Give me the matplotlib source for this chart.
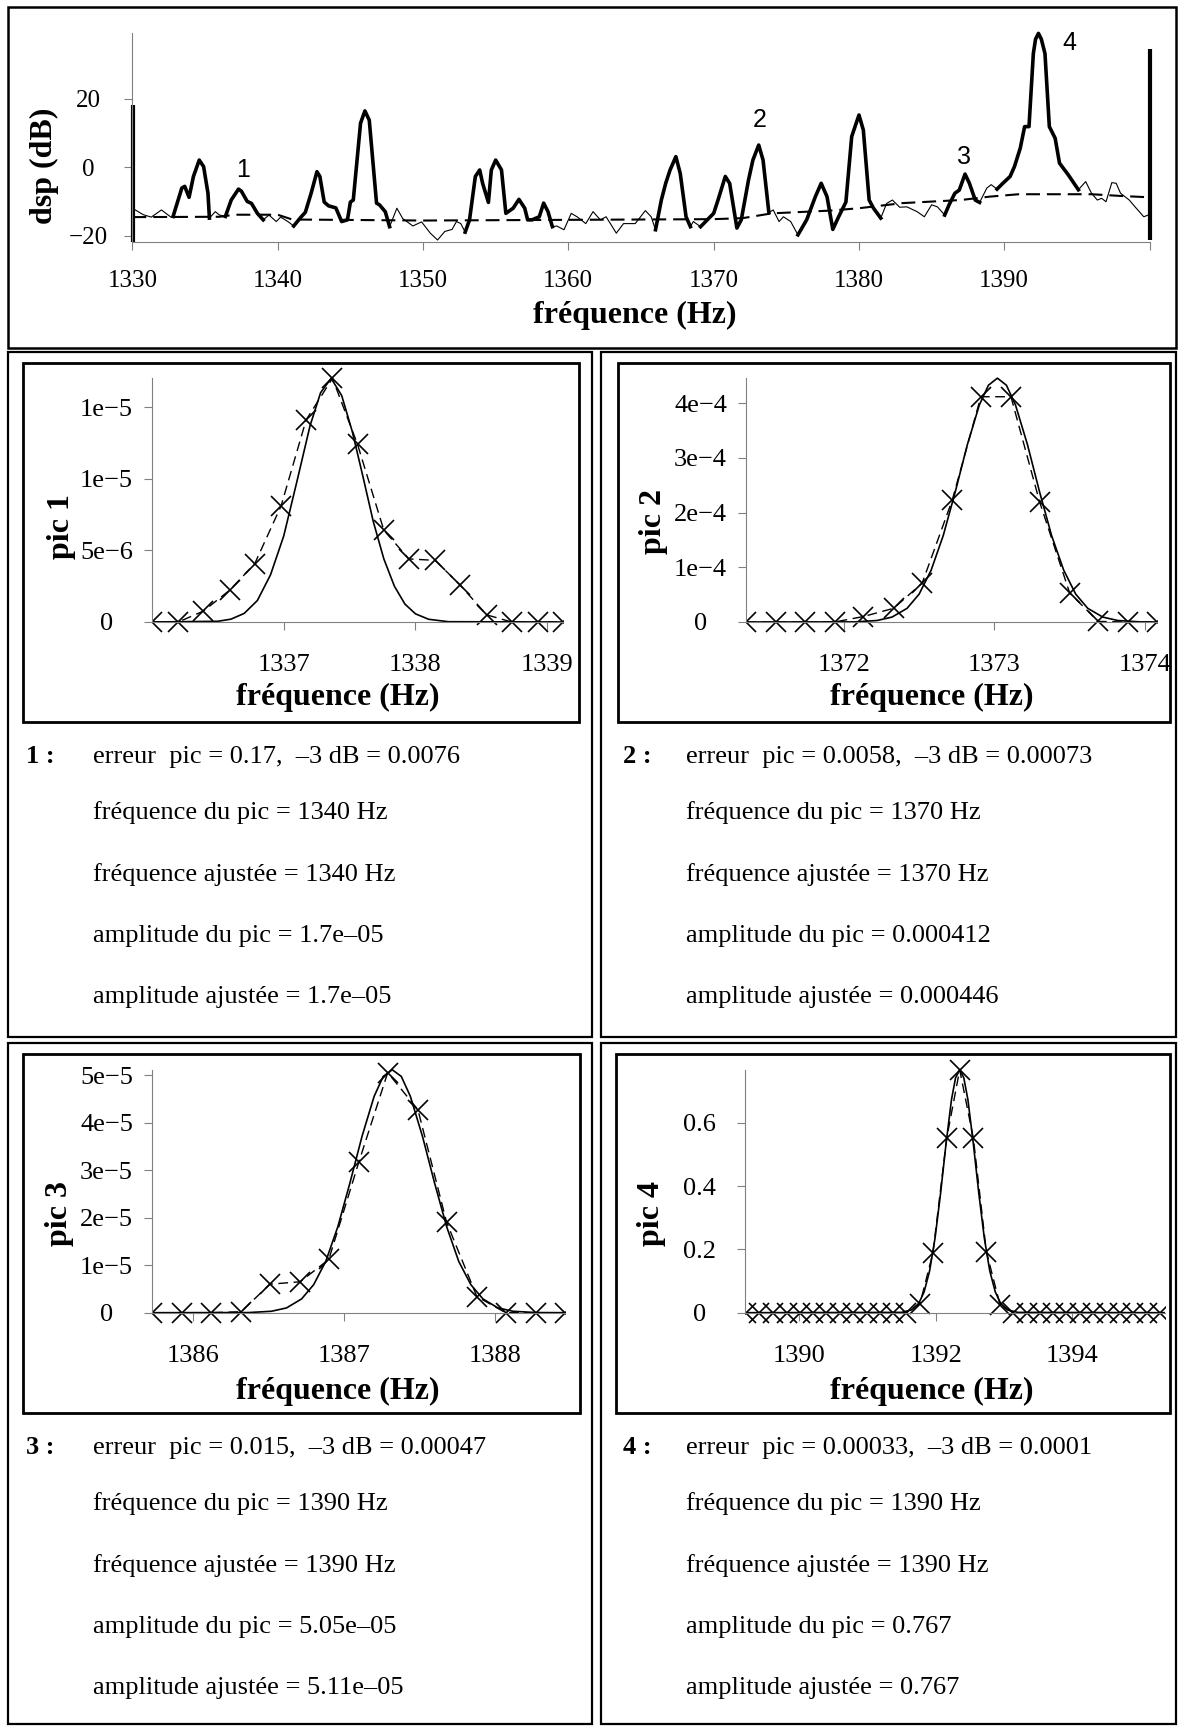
import numpy as np
import matplotlib
matplotlib.use("Agg")
import matplotlib.pyplot as plt
from matplotlib.patches import Rectangle

# ---------------- data ----------------
spec_freq = [1330.0, 1330.2, 1330.75, 1331.3, 1332.0, 1332.65, 1332.8, 1333.4, 1333.6, 1333.9,
             1334.2, 1334.6, 1334.9, 1335.2, 1335.3, 1335.7, 1336.0, 1336.4, 1336.8, 1337.3,
             1337.5, 1337.9, 1338.2, 1338.6, 1339.0, 1339.4, 1339.9, 1340.2, 1340.7, 1341.1,
             1341.6, 1341.9, 1342.3, 1342.7, 1342.9, 1343.2, 1343.5, 1344.0, 1344.4, 1344.8,
             1345.0, 1345.2, 1345.7, 1346.0, 1346.3, 1346.6, 1346.8, 1347.0, 1347.4, 1347.7,
             1348.2, 1348.6, 1349.3, 1349.9, 1350.5, 1351.0, 1351.5, 1352.0, 1352.3, 1352.6,
             1352.9, 1353.2, 1353.6, 1353.9, 1354.1, 1354.5, 1354.7, 1355.0, 1355.4, 1355.7,
             1356.2, 1356.6, 1357.0, 1357.2, 1357.5, 1358.0, 1358.3, 1358.6, 1358.9, 1359.2,
             1359.7, 1360.2, 1360.6, 1361.2, 1361.7, 1362.2, 1362.6, 1363.3, 1363.8, 1364.6,
             1365.3, 1365.7, 1366.0, 1366.4, 1366.7, 1367.0, 1367.4, 1367.7, 1368.1, 1368.4,
             1368.6, 1369.1, 1370.0, 1370.3, 1370.8, 1371.1, 1371.6, 1371.9, 1372.4, 1372.7,
             1373.1, 1373.4, 1373.8, 1374.1, 1374.5, 1374.8, 1375.3, 1375.8, 1376.4, 1377.0,
             1377.4, 1377.8, 1378.2, 1378.6, 1379.1, 1379.5, 1380.0, 1380.3, 1380.7, 1381.0,
             1381.5, 1381.9, 1382.3, 1382.8, 1383.3, 1384.0, 1384.5, 1385.0, 1385.4, 1385.9,
             1386.2, 1386.6, 1386.9, 1387.3, 1387.6, 1388.0, 1388.3, 1388.8, 1389.1, 1389.5,
             1389.9, 1390.4, 1390.7, 1391.1, 1391.4, 1391.7, 1392.0, 1392.15, 1392.35, 1392.55,
             1392.8, 1393.1, 1393.5, 1393.8, 1394.4, 1395.1, 1395.6, 1396.0, 1396.4, 1396.7,
             1397.0, 1397.4, 1397.7, 1398.0, 1398.6, 1399.0, 1399.6, 1399.9]
spec_db = [-12.0, -12.5, -13.9, -14.6, -12.5, -14.6, -14.4, -6.1, -5.6, -8.8,
           -2.7, 2.1, 0.2, -7.6, -14.9, -13.0, -14.0, -14.4, -9.6, -6.4,
           -7.0, -10.0, -10.6, -13.5, -15.4, -14.0, -15.9, -14.6, -15.9, -17.2,
           -14.6, -13.2, -7.6, -1.3, -2.7, -10.2, -11.3, -11.9, -15.9, -15.4,
           -10.2, -9.6, 12.9, 16.5, 13.8, -0.8, -10.5, -11.0, -13.0, -17.4,
           -12.0, -15.0, -17.2, -16.0, -19.3, -21.3, -18.8, -18.2, -15.9, -16.5,
           -19.0, -15.4, -2.7, -0.8, -4.7, -10.3, -0.8, 2.1, -0.8, -13.5,
           -12.0, -9.4, -12.0, -15.4, -15.4, -14.5, -10.5, -13.0, -17.4, -17.2,
           -18.3, -13.5, -14.5, -16.5, -13.0, -15.4, -14.5, -19.3, -16.5, -16.5,
           -12.7, -14.5, -18.3, -9.6, -4.7, -0.8, 3.1, -1.8, -14.5, -17.4,
           -15.9, -17.4, -13.5, -9.6, -2.7, -4.7, -17.8, -15.4, -3.7, 2.1,
           6.5, 2.1, -13.3, -12.5, -15.9, -14.5, -15.9, -19.8, -15.4, -8.6,
           -4.7, -8.6, -18.2, -14.5, -10.2, 9.0, 15.3, 10.9, -9.6, -12.0,
           -14.9, -10.6, -9.6, -11.7, -11.6, -13.0, -14.5, -11.0, -11.6, -14.0,
           -11.0, -7.6, -6.7, -2.0, -4.7, -9.6, -10.3, -6.1, -5.1, -6.4,
           -4.7, -2.7, 0.2, 5.6, 11.9, 11.9, 33.3, 37.5, 39.2, 37.5,
           33.3, 11.9, 8.5, 1.2, -2.2, -6.6, -4.2, -7.6, -9.6, -9.1,
           -10.1, -4.5, -4.7, -7.6, -9.6, -11.6, -14.5, -14.0]
thick_ranges = [(1332.8, 1335.3), (1336.4, 1339.0), (1341.1, 1347.7), (1352.9, 1358.9),
                (1366.0, 1368.4), (1369.1, 1373.8), (1375.8, 1381.5), (1385.9, 1388.3),
                (1389.5, 1395.1)]
floor_freq = [1330, 1336, 1337, 1340, 1341, 1350, 1360, 1370, 1372, 1374, 1378, 1380,
              1383, 1387, 1389, 1391, 1396, 1398, 1400]
floor_db = [-14.6, -14.5, -13.9, -13.9, -15.3, -15.6, -15.4, -15.2, -14.9, -13.5, -12.7, -12.0,
            -10.5, -9.6, -8.6, -7.9, -7.9, -8.4, -8.8]
edge_freq = [1330.05, 1400.0]
edge_lo = [-21.8, -21.3]
edge_hi = [18.2, 34.5]
peak_names = ['1', '2', '3', '4']
peak_name_freq = [1337.6, 1373.2, 1387.2, 1394.5]
peak_name_db = [-0.8, 13.8, 3.1, 36.3]

p1_freq = [1336.00, 1336.20, 1336.39, 1336.59, 1336.78, 1336.98, 1337.17, 1337.37, 1337.56,
           1337.76, 1337.95, 1338.15, 1338.34, 1338.54, 1338.73, 1338.93, 1339.12]
p1_val = [0, 0, 0.76e-6, 2.22e-6, 4.07e-6, 8.1e-6, 14.1e-6, 17.0e-6, 12.4e-6,
          6.4e-6, 4.4e-6, 4.3e-6, 2.57e-6, 0.5e-6, 0, 0, 0]
p1_fit_freq = [1336.00, 1336.50, 1336.60, 1336.70, 1336.80, 1336.90, 1337.00, 1337.10, 1337.20,
               1337.28, 1337.36, 1337.44, 1337.52, 1337.60, 1337.68, 1337.76, 1337.84, 1337.92,
               1338.00, 1338.10, 1338.25, 1339.12]
p1_fit_val = [0, 0.05e-6, 0.2e-6, 0.6e-6, 1.5e-6, 3.3e-6, 6.0e-6, 9.8e-6, 13.7e-6,
              16.0e-6, 17.0e-6, 15.8e-6, 13.3e-6, 10.2e-6, 7.0e-6, 4.4e-6, 2.5e-6, 1.25e-6,
              0.57e-6, 0.19e-6, 0.02e-6, 0]

p2_freq = [1371.35, 1371.55, 1371.74, 1371.94, 1372.13, 1372.33, 1372.52, 1372.72, 1372.91,
           1373.11, 1373.30, 1373.50, 1373.69, 1373.89, 1374.08]
p2_val = [0, 0, 0, 0, 0.10e-4, 0.25e-4, 0.71e-4, 2.23e-4, 4.12e-4, 4.12e-4, 2.20e-4, 0.53e-4,
          0.01e-4, 0, 0]
p2_fit_freq = [1371.35, 1372.07, 1372.22, 1372.32, 1372.42, 1372.50, 1372.58, 1372.66, 1372.74,
               1372.82, 1372.90, 1372.96, 1373.02, 1373.08, 1373.14, 1373.22, 1373.30, 1373.38,
               1373.46, 1373.54, 1373.62, 1373.72, 1373.82, 1373.97, 1374.08]
p2_fit_val = [0, 0.002e-4, 0.027e-4, 0.09e-4, 0.25e-4, 0.51e-4, 0.95e-4, 1.58e-4, 2.38e-4,
              3.24e-4, 3.97e-4, 4.33e-4, 4.46e-4, 4.33e-4, 3.97e-4, 3.24e-4, 2.38e-4, 1.58e-4,
              0.95e-4, 0.51e-4, 0.25e-4, 0.09e-4, 0.027e-4, 0.002e-4, 0]

p3_freq = [1385.73, 1385.93, 1386.12, 1386.32, 1386.51, 1386.71, 1386.90, 1387.10, 1387.29,
           1387.49, 1387.68, 1387.88, 1388.07, 1388.27, 1388.46]
p3_val = [0, 0, 0, 0.02e-5, 0.60e-5, 0.65e-5, 1.12e-5, 3.18e-5, 5.05e-5, 4.27e-5, 1.90e-5,
          0.34e-5, 0, 0, 0]
p3_fit_freq = [1385.73, 1386.37, 1386.52, 1386.62, 1386.72, 1386.80, 1386.88, 1386.96, 1387.04,
               1387.12, 1387.20, 1387.26, 1387.32, 1387.38, 1387.44, 1387.52, 1387.60, 1387.68,
               1387.76, 1387.84, 1387.92, 1388.02, 1388.12, 1388.27, 1388.46]
p3_fit_val = [0, 0.003e-5, 0.03e-5, 0.10e-5, 0.29e-5, 0.59e-5, 1.08e-5, 1.81e-5, 2.73e-5,
              3.71e-5, 4.55e-5, 4.97e-5, 5.11e-5, 4.97e-5, 4.55e-5, 3.71e-5, 2.73e-5, 1.81e-5,
              1.08e-5, 0.59e-5, 0.29e-5, 0.10e-5, 0.03e-5, 0.003e-5, 0]

p4_freq = [1389.23, 1389.42, 1389.62, 1389.82, 1390.01, 1390.21, 1390.40, 1390.60, 1390.79,
           1390.99, 1391.18, 1391.38, 1391.57, 1391.77, 1391.96, 1392.16, 1392.35, 1392.55,
           1392.74, 1392.94, 1393.13, 1393.33, 1393.52, 1393.72, 1393.91, 1394.11, 1394.30,
           1394.50, 1394.70, 1394.89, 1395.09, 1395.28]
p4_val = [0, 0, 0, 0, 0, 0, 0, 0, 0, 0, 0, 0, 0, 0.029, 0.19, 0.551, 0.767, 0.551, 0.193, 0.025,
          0, 0, 0, 0, 0, 0, 0, 0, 0, 0, 0, 0]
p4_fit_freq = [1389.21, 1391.50, 1391.65, 1391.75, 1391.83, 1391.91, 1391.99, 1392.07, 1392.15,
               1392.23, 1392.29, 1392.35, 1392.41, 1392.47, 1392.55, 1392.63, 1392.71, 1392.79,
               1392.87, 1392.95, 1393.05, 1393.20, 1395.35]
p4_fit_val = [0, 0.001, 0.009, 0.029, 0.066, 0.132, 0.236, 0.376, 0.533, 0.673, 0.742, 0.767,
              0.742, 0.673, 0.533, 0.376, 0.236, 0.132, 0.066, 0.029, 0.009, 0.001, 0]

p1_yticks = [0, 5e-6, 1e-5, 1.5e-5]
p1_yticklabels = ['0', '5e\u22126', '1e\u22125', '1e\u22125']
p2_yticks = [0, 1e-4, 2e-4, 3e-4, 4e-4]
p2_yticklabels = ['0', '1e\u22124', '2e\u22124', '3e\u22124', '4e\u22124']
p3_yticks = [0, 1e-5, 2e-5, 3e-5, 4e-5, 5e-5]
p3_yticklabels = ['0', '1e\u22125', '2e\u22125', '3e\u22125', '4e\u22125', '5e\u22125']
p4_yticks = [0, 0.2, 0.4, 0.6]
p4_yticklabels = ['0', '0.2', '0.4', '0.6']
p1_xticks = [1337, 1338, 1339]
p2_xticks = [1372, 1373, 1374]
p3_xticks = [1386, 1387, 1388]
p4_xticks = [1390, 1392, 1394]

top_xticks = [1330, 1340, 1350, 1360, 1370, 1380, 1390, 1400]
top_xticklabels = ['1330', '1340', '1350', '1360', '1370', '1380', '1390', '']
top_yticks = [-20, 0, 20]
top_yticklabels = ['\u221220', '0', '20']

blocks = [
    ('1 :', ['erreur  pic = 0.17,  \u20133 dB = 0.0076', 'fr\u00e9quence du pic = 1340 Hz',
             'fr\u00e9quence ajust\u00e9e = 1340 Hz', 'amplitude du pic = 1.7e\u201305',
             'amplitude ajust\u00e9e = 1.7e\u201305']),
    ('2 :', ['erreur  pic = 0.0058,  \u20133 dB = 0.00073', 'fr\u00e9quence du pic = 1370 Hz',
             'fr\u00e9quence ajust\u00e9e = 1370 Hz', 'amplitude du pic = 0.000412',
             'amplitude ajust\u00e9e = 0.000446']),
    ('3 :', ['erreur  pic = 0.015,  \u20133 dB = 0.00047', 'fr\u00e9quence du pic = 1390 Hz',
             'fr\u00e9quence ajust\u00e9e = 1390 Hz', 'amplitude du pic = 5.05e\u201305',
             'amplitude ajust\u00e9e = 5.11e\u201305']),
    ('4 :', ['erreur  pic = 0.00033,  \u20133 dB = 0.0001', 'fr\u00e9quence du pic = 1390 Hz',
             'fr\u00e9quence ajust\u00e9e = 1390 Hz', 'amplitude du pic = 0.767',
             'amplitude ajust\u00e9e = 0.767']),
]

# ---------------- layout / style ----------------
W, H = 1179, 1727
plt.rcParams['font.family'] = ['Liberation Serif', 'DejaVu Serif']
plt.rcParams['lines.scale_dashes'] = False
plt.rcParams['axes.unicode_minus'] = False
GRAY = '#808080'
TOP_TICK_FS = 18
PAN_TICK_FS = 19
LAB_FS = 23
TXT_FS = 19

fig = plt.figure(figsize=(W / 100, H / 100), dpi=100)


def rect_px(x0, y0, x1, y1):
    return [x0 / W, 1 - y1 / H, (x1 - x0) / W, (y1 - y0) / H]


def box(x0, y0, x1, y1, lw):
    fig.add_artist(Rectangle((x0 / W, 1 - y1 / H), (x1 - x0) / W, (y1 - y0) / H,
                             transform=fig.transFigure, fill=False, lw=lw, ec='black'))


def ftext(x, y, s, **kw):
    fig.text(x / W, 1 - y / H, s, **kw)


def style_axes(ax, ypad, fs):
    for s in ('top', 'right'):
        ax.spines[s].set_visible(False)
    for s in ('left', 'bottom'):
        ax.spines[s].set_color(GRAY)
        ax.spines[s].set_linewidth(0.8)
    ax.tick_params(direction='out', length=5.8, width=0.8, color=GRAY, labelsize=fs)
    ax.tick_params(axis='y', pad=ypad)
    ax.patch.set_alpha(0)


# cell frames
box(7.7, 7, 1176, 347.5, 1.8)
box(7.7, 352.3, 591.7, 1036.7, 1.6)
box(601, 352.3, 1176, 1036.7, 1.6)
box(7.7, 1043.3, 591.7, 1724, 1.6)
box(601, 1043.3, 1176, 1724, 1.6)
# inner plot frames
box(23, 363, 579.3, 721.7, 2.0)
box(617.7, 363, 1170, 721.7, 2.0)
box(23, 1054, 580, 1413, 2.0)
box(616, 1054, 1170, 1413, 2.0)

# ---------------- top spectrum ----------------
ax = fig.add_axes(rect_px(132.4, 32.7, 1149.6, 241.7))
ax.set_xlim(1330, 1400)
ax.set_ylim(-21.8, 39.4)
f = np.array(spec_freq)
d = np.array(spec_db)
ax.plot(f, d, color='black', lw=0.8, clip_on=False)
for a, b in thick_ranges:
    m = (f >= a - 1e-6) & (f <= b + 1e-6)
    ax.plot(f[m], d[m], color='black', lw=2.6, solid_joinstyle='round', clip_on=False)
ax.plot(floor_freq, floor_db, color='black', lw=1.5, dashes=(10, 5), clip_on=False)
ax.vlines(edge_freq, edge_lo, edge_hi, color='black', lw=3, clip_on=False)
for nm, nf, nd in zip(peak_names, peak_name_freq, peak_name_db):
    ax.text(nf, nd, nm, family='Liberation Sans', fontsize=18, ha='center', va='center')
style_axes(ax, 26, TOP_TICK_FS)
ax.tick_params(axis='x', pad=14.5)
ax.set_xticks(top_xticks)
ax.set_xticklabels(top_xticklabels)
ax.set_yticks(top_yticks)
ax.set_yticklabels(top_yticklabels, ha='center')
ftext(44, 166, 'dsp (dB)', fontsize=LAB_FS, fontweight='bold', rotation=90, ha='center', va='center')
ftext(635, 315, 'fr\u00e9quence (Hz)', fontsize=LAB_FS, fontweight='bold', ha='center', va='center')


# ---------------- peak panels ----------------
def panel(xl, xr, xlim, y0, yref_px, yref_val, freq, val, ff, fv, yt, ytl, xt, ylabel, xlab_c, ylab_c):
    scale = (y0 - yref_px) / yref_val
    ymax = max(max(val), max(fv))
    pad = 14
    top = y0 - ymax * scale - pad
    bot = y0 + pad
    ax = fig.add_axes(rect_px(xl, top, xr, bot))
    ax.set_xlim(xlim)
    ax.set_ylim(-pad / scale, ymax + pad / scale)
    ax.plot(ff, fv, color='black', lw=1.2)
    ax.plot(freq, val, color='black', lw=1.0, dashes=(7, 4), marker='x', ms=14, mew=1.2)
    style_axes(ax, 27, PAN_TICK_FS)
    ax.tick_params(axis='x', pad=17.5)
    ax.spines['bottom'].set_position(('data', 0))
    ax.spines['left'].set_bounds(0, ymax)
    ax.set_yticks(yt)
    ax.set_yticklabels(ytl, ha='center')
    ax.set_xticks(xt)
    ax.set_xticklabels([str(v) for v in xt])
    ftext(xlab_c[0], xlab_c[1], 'fr\u00e9quence (Hz)', fontsize=LAB_FS, fontweight='bold',
          ha='center', va='center')
    ftext(ylab_c[0], ylab_c[1], ylabel, fontsize=LAB_FS, fontweight='bold', rotation=90,
          ha='center', va='center')
    return ax


panel(152, 563, (1336.0, 1339.12), 622, 407, 1.5e-5, p1_freq, p1_val, p1_fit_freq, p1_fit_val,
      p1_yticks, p1_yticklabels, p1_xticks, 'pic 1', (337.6, 697), (61, 527))
panel(746, 1157, (1371.35, 1374.08), 622, 403.3, 4e-4, p2_freq, p2_val, p2_fit_freq, p2_fit_val,
      p2_yticks, p2_yticklabels, p2_xticks, 'pic 2', (932, 697), (653, 521))
panel(152, 564.5, (1385.73, 1388.46), 1312.7, 1075, 5e-5, p3_freq, p3_val, p3_fit_freq, p3_fit_val,
      p3_yticks, p3_yticklabels, p3_xticks, 'pic 3', (337.6, 1391), (59, 1214))
panel(745, 1164.8, (1389.21, 1395.35), 1312.7, 1122.7, 0.6, p4_freq, p4_val, p4_fit_freq, p4_fit_val,
      p4_yticks, p4_yticklabels, p4_xticks, 'pic 4', (932, 1391), (652, 1214))

# ---------------- text blocks ----------------
base_mid = [763, 819, 881, 942, 1003]
origins = [(26, 92.6, 0), (622.6, 686.5, 0), (26, 92.6, 691), (622.6, 686.5, 691)]
for (tag, lines), (xt_, xl_, dy) in zip(blocks, origins):
    ftext(xt_, base_mid[0] + dy, tag, fontsize=TXT_FS, fontweight='bold', va='baseline')
    for ln, yb in zip(lines, base_mid):
        ftext(xl_, yb + dy, ln, fontsize=TXT_FS, va='baseline')

fig.savefig('out.png', dpi=100)
